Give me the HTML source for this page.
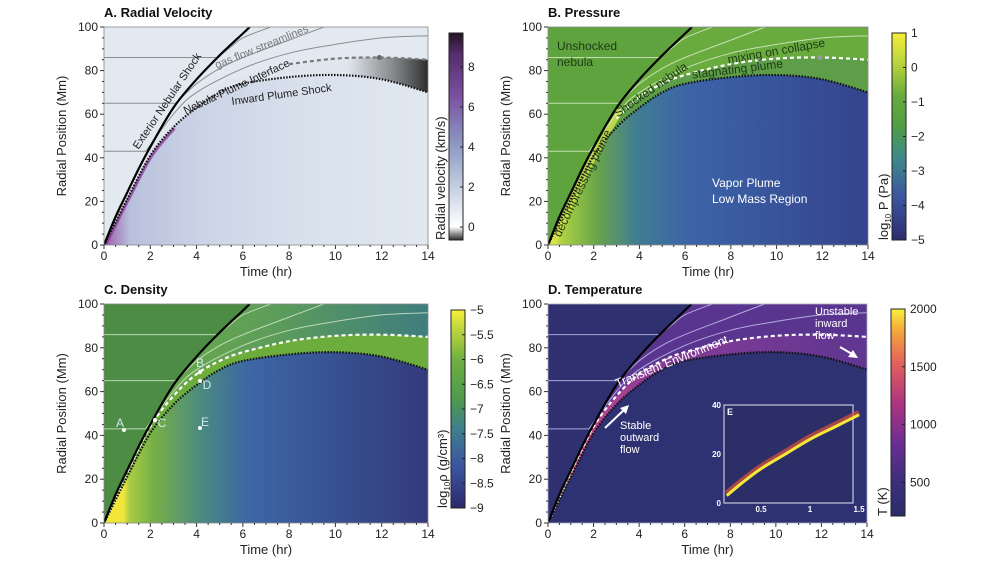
<!DOCTYPE html>
<html><head><meta charset="utf-8"><style>
html,body{margin:0;padding:0;background:#fff;}
svg{display:block;font-family:"Liberation Sans",sans-serif;}
</style></head><body>
<svg id="fig" width="1000" height="565" viewBox="0 0 1000 565" xmlns="http://www.w3.org/2000/svg">
<defs id="defs"></defs>
</svg>
<script>
// ---- data ----
const shockT = [0,0.5,1,1.5,2,3,4,5,6,6.3];
const shockR = [0,13,24,35,45,63,76,87,97,100];
const ifaceT = [0,1,2,3,4,5,6,8,10,12,14];
const ifaceR = [0,23,44,58,68,74,78,83,85.5,86,85];
const plumeT = [0,1,2,3,4,5,6,8,10,12,14];
const plumeR = [0,21,41,54,63,70,74,77,78,76,70];
const stream1T = [0,1.8,3,4,6,8,10,12,14];
const stream1R = [43,43,60,70,81,88,92,95,96];
const stream2T = [0,3.1,4,5,6,8,9.5];
const stream2R = [65,65,74,81,86,94,100];
const stream3T = [0,4.9,5.5,6,7.2];
const stream3R = [86,86,91,95,100];
const xTicks = [0,2,4,6,8,10,12,14];
const yTicks = [0,20,40,60,80,100];
const insetT = [0.15,0.3,0.5,0.75,1,1.25,1.5];
const insetR = [3,8,14,20,26,31,36];
const cbA = [0,2,4,6,8], cbB=[1,0,-1,-2,-3,-4,-5], cbC=[-5,-5.5,-6,-6.5,-7,-7.5,-8,-8.5,-9], cbD=[500,1000,1500,2000];

const NS="http://www.w3.org/2000/svg";
const svg=document.getElementById('fig'), defs=document.getElementById('defs');
function el(tag,attrs,parent){const e=document.createElementNS(NS,tag);for(const k in attrs)e.setAttribute(k,attrs[k]);(parent||svg).appendChild(e);return e;}
function grad(id,stops,x1,x2,y1,y2){const g=el('linearGradient',{id:id,gradientUnits:'userSpaceOnUse',x1:x1,x2:x2,y1:y1,y2:y2},defs);stops.forEach(s=>el('stop',{offset:s[0],'stop-color':s[1],'stop-opacity':s[2]==null?1:s[2]},g));return 'url(#'+id+')';}
function smooth(p){let d='';for(let i=0;i<p.length-1;i++){const p0=p[Math.max(0,i-1)],p1=p[i],p2=p[i+1],p3=p[Math.min(p.length-1,i+2)];
  const c1=[p1[0]+(p2[0]-p0[0])/6,p1[1]+(p2[1]-p0[1])/6],c2=[p2[0]-(p3[0]-p1[0])/6,p2[1]-(p3[1]-p1[1])/6];
  d+=' C'+c1[0].toFixed(1)+','+c1[1].toFixed(1)+' '+c2[0].toFixed(1)+','+c2[1].toFixed(1)+' '+p2[0].toFixed(1)+','+p2[1].toFixed(1);}return d;}

function panel(P){
  const X=t=>P.x0+(P.x1-P.x0)*t/14, Y=r=>P.y0-(P.y0-P.y1)*r/100;
  const g=el('g',{});
  
  
  const cp=el('clipPath',{id:'clip'+P.id},defs);
  el('rect',{x:P.x0,y:P.y1,width:P.x1-P.x0,height:P.y0-P.y1},cp);
  const pg=el('g',{'clip-path':'url(#clip'+P.id+')'},g);
  const P2=(T,R)=>T.map((t,i)=>[X(t),Y(R[i])]);
  const curve=(T,R)=>{const p=P2(T,R);return 'M'+p[0][0].toFixed(1)+','+p[0][1].toFixed(1)+smooth(p);};
  el('rect',{x:P.x0,y:P.y1,width:P.x1-P.x0,height:P.y0-P.y1,fill:P.bg},pg);
  const shockD=curve(shockT,shockR)+' L'+X(14)+','+Y(100)+' L'+X(14)+','+Y(0)+' Z';
  const sh=el('path',{d:shockD,fill:P.shocked},pg);
  
  
  el('path',{d:curve(ifaceT,ifaceR)+' L'+X(14)+','+Y(0)+' Z',fill:P.mix},pg);
  const pl=el('path',{d:curve(plumeT,plumeR)+' L'+X(14)+','+Y(0)+' Z',fill:P.plume},pg);
  
  
  if(P.extra)P.extra(pg,X,Y,P2,curve);
  [[stream1T,stream1R],[stream2T,stream2R],[stream3T,stream3R]].forEach((s,i)=>{
    const p=P2(s[0],s[1]);
    const d='M'+p[0][0]+','+p[0][1]+' L'+p[1][0]+','+p[1][1]+smooth(p.slice(1));
    const l=el('path',{d:d,fill:'none',stroke:P.stream,'stroke-width':1,opacity:P.streamOp||0.8},pg);
    
    
  });
  let iT=ifaceT,iR=ifaceR;
  if(P.ifaceFrom){iT=ifaceT.filter(t=>t>=P.ifaceFrom);iR=ifaceR.slice(ifaceT.length-iT.length);}
  const il=el('path',{d:curve(iT,iR),fill:'none',stroke:P.ifaceCol,'stroke-width':2.2,'stroke-dasharray':'4,3'},pg);
  
  
  const pl2=el('path',{d:curve(plumeT,plumeR),fill:'none',stroke:'#111','stroke-width':2.2,'stroke-dasharray':'1.5,1.5'},pg);
  
  
  const sl=el('path',{d:curve(shockT,shockR),fill:'none',stroke:'#000','stroke-width':2.2},pg);
  
  
  el('rect',{x:P.x0,y:P.y1,width:P.x1-P.x0,height:P.y0-P.y1,fill:'none',stroke:P.frame||'#888','stroke-width':0.8},g);
  for(let t=0;t<=14;t+=0.5){const maj=t%2===0;el('line',{x1:X(t),x2:X(t),y1:P.y0,y2:P.y0+(maj?4:2),stroke:'#333','stroke-width':1},g);}
  for(let r=0;r<=100;r+=5){const maj=r%20===0;el('line',{x1:P.x0,x2:P.x0-(maj?4:2),y1:Y(r),y2:Y(r),stroke:'#333','stroke-width':1},g);}
  xTicks.forEach(t=>{const tx=el('text',{x:X(t),y:P.y0+15,'font-size':12,'text-anchor':'middle',fill:'#222'},g);tx.textContent=t;
    });
  yTicks.forEach(r=>{const tx=el('text',{x:P.x0-6,y:Y(r)+4,'font-size':12,'text-anchor':'end',fill:'#222'},g);tx.textContent=r;
    });
  const xt=el('text',{x:(P.x0+P.x1)/2,y:P.y0+31,'font-size':13,'text-anchor':'middle',fill:'#222'},g);xt.textContent='Time (hr)';
  
  const yc=(P.y0+P.y1)/2;
  const yt=el('text',{x:P.x0-38,y:yc,'font-size':13,'text-anchor':'middle',fill:'#222',transform:'rotate(-90 '+(P.x0-38)+' '+yc+')'},g);yt.textContent='Radial Position (Mm)';
  
  const tt=el('text',{x:P.x0,y:P.y1-10,'font-size':13,'font-weight':'bold',fill:'#111'},g);tt.textContent=P.title;
  
  const cb=P.cb;
  const gid='cbg'+P.id;
  grad(gid,cb.stops,0,0,cb.y0,cb.y1);
  const cr=el('rect',{x:cb.x,y:cb.y1,width:14,height:cb.y0-cb.y1,fill:'url(#'+gid+')',stroke:'#222','stroke-width':1},g);
  
  const CY=v=>cb.y0-(cb.y0-cb.y1)*(v-cb.vmin)/(cb.vmax-cb.vmin);
  cb.ticks.forEach(v=>{el('line',{x1:cb.x+14,x2:cb.x+11,y1:CY(v),y2:CY(v),stroke:'#222'},g);
    const tx=el('text',{x:cb.x+19,y:CY(v)+4,'font-size':12,fill:'#222'},g);tx.textContent=(v<0?'\u2212'+(-v):v);
    });
  const lx=cb.x-4, ly=cb.y0;
  const lt=el('text',{x:lx,y:ly,'font-size':13,'text-anchor':'start',fill:'#222',transform:'rotate(-90 '+lx+' '+ly+')'},g);
  lt.innerHTML=cb.label;
  
  return {g,X,Y};
}
function label(parent,txt,x,y,opt){const t=el('text',Object.assign({x:x,y:y,'font-size':11,fill:'#222','text-anchor':'middle'},opt||{}),parent);t.textContent=txt;
  return t;}

// Panel A
const gA1=grad('gA1',[[0,'#9a5aa8'],[0.08,'#b8c0dc'],[0.3,'#cbd4e6'],[0.6,'#d8e0ec'],[1,'#e1e8f0']],104,428,0,0);
const gAw=grad('gAw',[[0,'#888',0],[0.4,'#777',0.6],[1,'#222',0.95]],104+324*10.5/14,428,0,0);
const A=panel({id:'A',name:'panel-radial-velocity',title:'A. Radial Velocity',x0:104,x1:428,y0:245,y1:27,bg:'#e3e9f1',shocked:'#e3e9f1',mix:'#e0e6ee',plume:gA1,stream:'#8d8d8d',streamOp:1,ifaceCol:'#7a7a7a',ifaceFrom:8,
 extra:(pg,X,Y,P2,curve)=>{const pr=P2(plumeT,plumeR).reverse();const d=curve(ifaceT,ifaceR)+' L'+pr[0][0]+','+pr[0][1]+smooth(pr)+' Z';el('path',{d:d,fill:gAw},pg);
   el('path',{d:curve(plumeT.slice(0,4),plumeR.slice(0,4)),fill:'none',stroke:'#8a3f98','stroke-width':3,opacity:0.8,transform:'translate(1,1)'},pg);},
 cb:{x:449,y1:33,y0:240,vmin:-0.65,vmax:9.7,ticks:cbA,label:'Radial velocity (km/s)',stops:[[0,'#2b2b2b'],[0.063,'#ffffff'],[0.25,'#c6d0e2'],[0.45,'#8e9cc6'],[0.7,'#7a4f9e'],[0.9,'#552c6d'],[1,'#231523']]}});
el('circle',{cx:A.X(11.9),cy:A.Y(86),r:2.5,fill:'#666'},A.g);
label(A.g,'Exterior Nebular Shock',170,103,{transform:'rotate(-56 170 103)'});
label(A.g,'gas flow streamlines',263,50,{fill:'#777',transform:'rotate(-22 263 50)'});
label(A.g,'Nebula-Plume Interface',238,90,{transform:'rotate(-25 238 90)'});
label(A.g,'Inward Plume Shock',282,98,{transform:'rotate(-8 282 98)'});

// Panel B
const gB1=grad('gB1',[[0,'#e6e84a'],[0.05,'#a9cf45'],[0.15,'#6aa548'],[0.28,'#3f7c93'],[0.45,'#3c63a8'],[1,'#34438c']],548,868,0,0);
const B=panel({id:'B',name:'panel-pressure',title:'B. Pressure',x0:548,x1:868,y0:245,y1:27,bg:'#5fa33e',shocked:'#6aab40',mix:'#5f9e48',plume:gB1,stream:'#ddeecc',ifaceCol:'#ffffff',ifaceFrom:3,
 extra:(pg,X,Y,P2,curve)=>{el('path',{d:curve(shockT.slice(0,6),shockR.slice(0,6)),fill:'none',stroke:'#d6e24a','stroke-width':6,opacity:0.8,transform:'translate(4,2)'},pg);},
 cb:{x:892,y1:33,y0:240,vmin:-5,vmax:1,ticks:cbB,label:'log<tspan font-size="8" dy="3">10</tspan><tspan dy="-3"> P (Pa)</tspan>',stops:[[0,'#2c2c6e'],[0.2,'#3b54a0'],[0.4,'#3f8a8a'],[0.55,'#4f9e44'],[0.7,'#6aab3e'],[0.85,'#b8d33c'],[1,'#f5ee3a']]}});
el('circle',{cx:B.X(11.9),cy:B.Y(86),r:2.5,fill:'#999'},B.g);
label(B.g,'Unshocked',557,50,{'text-anchor':'start','font-size':12,fill:'#1e3a14'});
label(B.g,'nebula',557,66,{'text-anchor':'start','font-size':12,fill:'#1e3a14'});
label(B.g,'Shocked nebula',653,93,{'font-size':12,fill:'#1e3a14',transform:'rotate(-35 653 93)'});
label(B.g,'mixing on collapse',777,55,{'font-size':12,fill:'#1e3a14',transform:'rotate(-10 777 55)'});
label(B.g,'stagnating plume',738,73,{'font-size':12,fill:'#1e3a14',transform:'rotate(-7 738 73)'});
label(B.g,'decompressing plume',586,185,{'font-size':12,fill:'#1e3a14',transform:'rotate(-64 586 185)'});
label(B.g,'Vapor Plume',712,187,{'text-anchor':'start','font-size':12,fill:'#fff'});
label(B.g,'Low Mass Region',712,203,{'text-anchor':'start','font-size':12,fill:'#fff'});

// Panel C
const gC1=grad('gC1',[[0,'#f3e93a'],[0.06,'#f0e63a'],[0.08,'#a8cc44'],[0.15,'#78b045'],[0.3,'#4a8a80'],[0.45,'#3c66a4'],[1,'#333a7c']],104,428,0,0);
const gC2=grad('gC2',[[0,'#6fae45'],[0.5,'#5e9e58'],[1,'#3f7d7e']],104,428,0,0);
const C=panel({id:'C',name:'panel-density',title:'C. Density',x0:104,x1:428,y0:523,y1:304,bg:'#4d8c45',shocked:gC2,mix:'#6cad3e',plume:gC1,stream:'#d6ead0',ifaceCol:'#ffffff',ifaceFrom:0,
 cb:{x:451,y1:310,y0:508,vmin:-9,vmax:-5,ticks:cbC,label:'log<tspan font-size="8" dy="3">10</tspan><tspan dy="-3">ρ (g/cm³)</tspan>',stops:[[0,'#2c2a6a'],[0.2,'#3b52a0'],[0.4,'#3f7f8d'],[0.55,'#4e9a4d'],[0.75,'#6fb041'],[0.9,'#bcd63d'],[1,'#f8ee3a']]}});
[[124,430,'A',120,427],[200,372,'B',200,367],[155,420,'C',162,427],[200,381,'D',207,389],[200,428,'E',205,426]].forEach(p=>{
  el('circle',{cx:p[0],cy:p[1],r:2,fill:'#fff'},C.g);label(C.g,p[2],p[3],p[4],{'font-size':12,fill:'#cfe9ef'});});

// Panel D
const gD1=grad('gD1',[[0,'#f0d040'],[0.1,'#d04a86'],[0.3,'#8a3c98'],[1,'#5e3690']],548,868,0,0);
const D=panel({id:'D',name:'panel-temperature',title:'D. Temperature',x0:548,x1:867,y0:523,y1:304,bg:'#2f3070',shocked:'#5a3590',mix:gD1,stream:'#c8c8f0',ifaceCol:'#ffffff',ifaceFrom:0,frame:'#aab',
 extra:(pg,X,Y,P2,curve)=>{el('path',{d:curve(plumeT,plumeR)+' L'+X(14)+','+Y(0)+' Z',fill:'#2f3272'},pg);},
 cb:{x:891,y1:309,y0:516,vmin:210,vmax:2000,ticks:cbD,label:'T (K)',stops:[[0,'#2c2c6a'],[0.15,'#3a2f7a'],[0.35,'#6a2d92'],[0.55,'#b0347f'],[0.75,'#e5655a'],[0.9,'#f5a93a'],[1,'#f5f03c']]}});
label(D.g,'Transient Environment',673,365,{'font-size':12,fill:'#fff',transform:'rotate(-22 673 365)'});
['Unstable','inward','flow'].forEach((s,i)=>label(D.g,s,815,315+i*12,{'text-anchor':'start',fill:'#fff'}));
['Stable','outward','flow'].forEach((s,i)=>label(D.g,s,620,429+i*12,{'text-anchor':'start',fill:'#fff'}));
const ar1=el('line',{x1:605,y1:428,x2:626,y2:408,stroke:'#fff','stroke-width':2},D.g);

el('polygon',{points:'629,405 620,408 626,414',fill:'#fff'},D.g);
const ar2=el('line',{x1:840,y1:347,x2:852,y2:354,stroke:'#fff','stroke-width':2},D.g);

el('polygon',{points:'858,358 848,357 853,350',fill:'#fff'},D.g);
const ig=el('g',{},D.g);

const IX=t=>712+t*98, IY=r=>503-r*98/40;
el('rect',{x:724,y:405,width:129,height:98,fill:'#2c2e68',stroke:'#c8c8e0','stroke-width':1.2},ig);
const ipts=insetT.map((t,i)=>[IX(t),IY(insetR[i])]);
const ipd='M'+ipts[0][0]+','+ipts[0][1]+smooth(ipts);
el('path',{d:ipd,fill:'none',stroke:'#e0503a','stroke-width':6,opacity:0.7,transform:'translate(0,-2)'},ig);
const icurve=el('path',{d:ipd,fill:'none',stroke:'#f5e83a','stroke-width':3},ig);

label(ig,'E',727,415,{'text-anchor':'start','font-size':9,'font-weight':'bold',fill:'#fff'});
[0.5,1,1.5].forEach(t=>label(ig,t,IX(t),512,{'font-size':8,'font-weight':'bold',fill:'#fff'}));
[0,20,40].forEach(r=>label(ig,r,721,IY(r)+3,{'text-anchor':'end','font-size':8,'font-weight':'bold',fill:'#fff'}));
</script>
</body></html>
